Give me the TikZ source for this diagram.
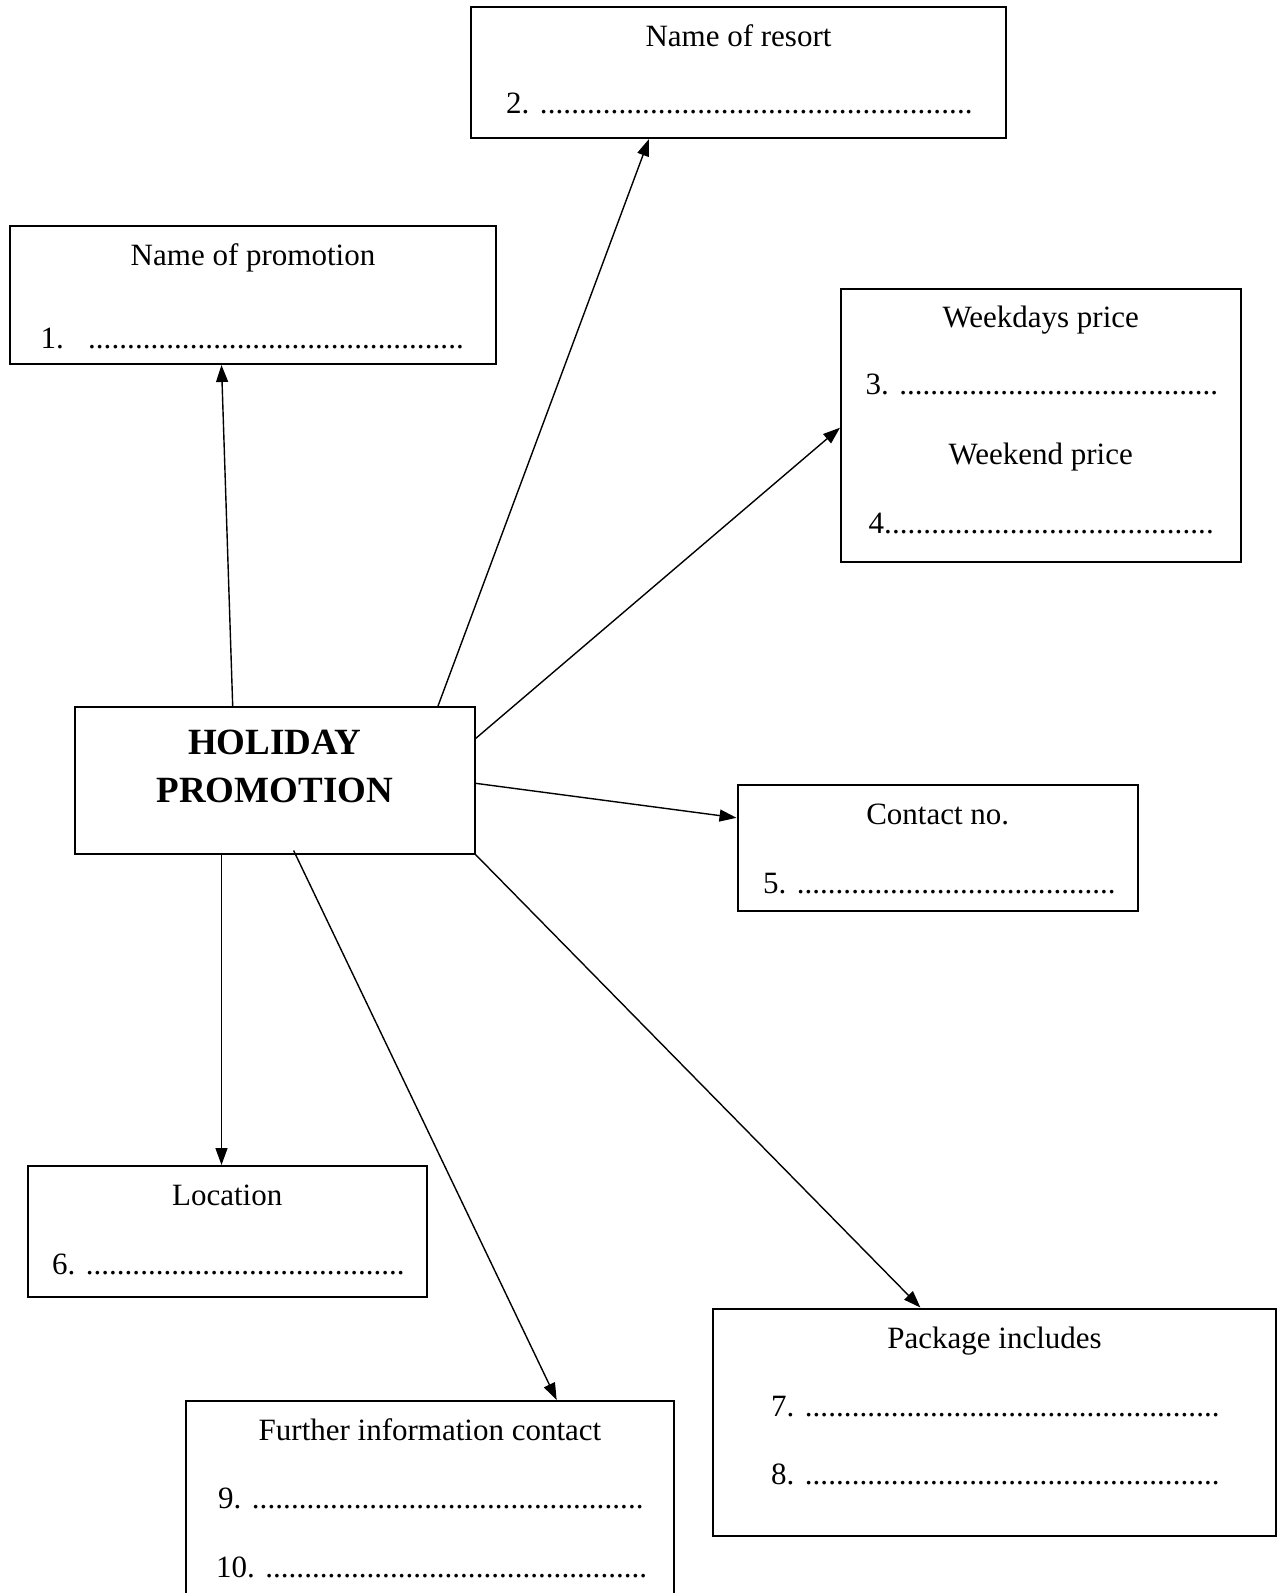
\documentclass[tikz,border=0pt]{standalone}
\usepackage{fontspec}
\setmainfont{Liberation Serif}
\usetikzlibrary{arrows.meta}
\newcommand{\dline}[1]{\hbox to #1{\xleaders\hbox{.}\hfill}}
\begin{document}
\begin{tikzpicture}[x=1pt,y=-1pt,
  box/.style={draw, line width=2pt, inner sep=0pt, rectangle},
  txt/.style={inner sep=0pt, font=\fontsize{31}{36}\selectfont},
  arr/.style={line width=1.4pt, -{Triangle[length=17pt,width=12pt]}},
  ln/.style={line width=1.4pt}]
\useasboundingbox[fill=white] (0,0) rectangle (1282,1593);
% boxes
\node[box, minimum width=535pt, minimum height=131pt] (resort) at (738.5,72.5) {};
\node[box, minimum width=486pt, minimum height=138.5pt] (promo) at (253,294.75) {};
\node[box, minimum width=399.5pt, minimum height=273.5pt] (price) at (1040.75,425.25) {};
\node[box, minimum width=399.5pt, minimum height=146.5pt] (hp) at (274.75,780.25) {};
\node[box, minimum width=400.5pt, minimum height=126.5pt] (contact) at (937.75,847.75) {};
\node[box, minimum width=399.5pt, minimum height=130.5pt] (location) at (227.25,1231.25) {};
\node[box, minimum width=563pt, minimum height=227.5pt] (package) at (994.5,1422.25) {};
\node[box, minimum width=488pt, minimum height=239pt] (further) at (430,1520.5) {};
% texts
\node[txt, anchor=base] (t1) at (738.5,46.5) {Name of resort};
\node[txt, anchor=base west] (t2) at (506,113.5) {2. \dline{433pt}};
\node[txt, anchor=base] (t3) at (253,265) {Name of promotion};
\node[txt, anchor=base west] (t4) at (40.5,348.5) {1.\hspace{24pt}\dline{376pt}};
\node[txt, anchor=base] (t5) at (1040.75,327) {Weekdays price};
\node[txt, anchor=base west] (t6) at (865.5,394) {3. \dline{319pt}};
\node[txt, anchor=base] (t7) at (1040.75,464) {Weekend price};
\node[txt, anchor=base west] (t8) at (868.5,533) {4.\dline{322pt}};
\node[txt, anchor=base] (t9) at (937.75,824) {Contact no.};
\node[txt, anchor=base west] (t10) at (763,893) {5. \dline{319pt}};
\node[txt, anchor=base] (t11) at (227.25,1205) {Location};
\node[txt, anchor=base west] (t12) at (52,1274) {6. \dline{319pt}};
\node[txt, anchor=base] (t13) at (994.5,1348) {Package includes};
\node[txt, anchor=base west] (t14) at (771,1416) {7. \dline{415pt}};
\node[txt, anchor=base west] (t15) at (771,1484) {8. \dline{415pt}};
\node[txt, anchor=base] (t16) at (430,1440) {Further information contact};
\node[txt, anchor=base west] (t17) at (218,1508) {9. \dline{392pt}};
\node[txt, anchor=base west] (t18) at (216,1577) {10. \dline{382pt}};
\node[txt, anchor=base, font=\fontsize{37}{44}\selectfont\bfseries] (t19) at (274.75,754) {HOLIDAY};
\node[txt, anchor=base, font=\fontsize{37}{44}\selectfont\bfseries] (t20) at (274.75,802.5) {PROMOTION};
% connectors
\draw[arr] ([xshift=158.7pt]hp.north west) -- ([xshift=212.5pt]promo.south west);
\draw[arr] ([xshift=364pt]hp.north west) -- ([xshift=179pt]resort.south west);
\draw[arr] ([yshift=-32.6pt]hp.north east) -- ([yshift=-140.2pt]price.north west);
\draw[arr] ([yshift=-77.3pt]hp.north east) -- ([yshift=-34.3pt]contact.north west);
\draw[arr] ([xshift=147.5pt]hp.south west) -- ([xshift=195pt]location.north west);
\draw[arr] ([xshift=219.6pt,yshift=4pt]hp.south west) -- ([xshift=371.7pt]further.north west);
\draw[arr] (hp.south east) -- ([xshift=208.4pt]package.north west);
\end{tikzpicture}
\end{document}
